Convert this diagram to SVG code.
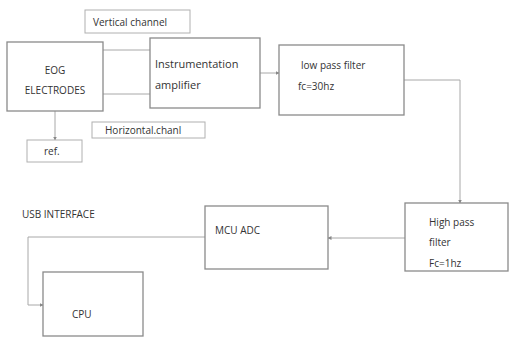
<svg xmlns="http://www.w3.org/2000/svg" width="509" height="337" viewBox="0 0 509 337">
<style>
.box{fill:#fff;stroke:#8a8a8a;stroke-width:1.3}
.lbl{fill:#fff;stroke:#b0b0b0;stroke-width:1}
.t{font-family:"Open Sans","Liberation Sans",sans-serif;font-size:10px;fill:#333}
.c{fill:none;stroke:#a8a8a8;stroke-width:1}
</style>
<defs>
<marker id="a" markerWidth="4" markerHeight="4" refX="3.5" refY="2" orient="auto" markerUnits="userSpaceOnUse"><path d="M0,0L4,2L0,4z" fill="#888"/></marker>
</defs>
<rect width="509" height="337" fill="#fff"/>
<g id="connectors">
<line class="c" x1="103" y1="50" x2="150" y2="50"/>
<line class="c" x1="103" y1="94" x2="150" y2="94"/>
<line class="c" x1="55" y1="111" x2="55" y2="140" marker-end="url(#a)"/>
<line class="c" x1="260" y1="73" x2="279" y2="73" marker-end="url(#a)"/>
<polyline class="c" points="404,80 460,80 460,203" marker-end="url(#a)"/>
<line class="c" x1="405" y1="238" x2="328" y2="238" marker-end="url(#a)"/>
<polyline class="c" points="205,237 28,237 28,305 43,305" marker-end="url(#a)"/>
</g>
<g id="vertical-channel"><rect class="lbl" x="85" y="10" width="105" height="23"/><text class="t" x="93" y="26">Vertical channel</text></g>
<g id="eog"><rect class="box" x="7" y="42" width="96" height="69"/><text class="t" x="55" y="74" text-anchor="middle">EOG</text><text class="t" x="55" y="94" text-anchor="middle">ELECTRODES</text></g>
<g id="amp"><rect class="box" x="150" y="38" width="110" height="70"/><text class="t" x="155" y="68" style="font-size:11px">Instrumentation</text><text class="t" x="155" y="89" style="font-size:11px">amplifier</text></g>
<g id="horizontal-channel"><rect class="lbl" x="92" y="122" width="113" height="16"/><text class="t" x="105" y="134">Horizontal.chanl</text></g>
<g id="ref"><rect class="lbl" x="27" y="140" width="55" height="22"/><text class="t" x="44" y="155">ref.</text></g>
<g id="lpf"><rect class="box" x="279" y="45" width="125" height="70"/><text class="t" x="301" y="69">low pass filter</text><text class="t" x="298" y="90">fc=30hz</text></g>
<g id="hpf"><rect class="box" x="405" y="203" width="103" height="68"/><text class="t" x="429" y="226">High pass</text><text class="t" x="429" y="246">filter</text><text class="t" x="429" y="267">Fc=1hz</text></g>
<g id="mcu"><rect class="box" x="205" y="206" width="123" height="63"/><text class="t" x="215" y="234">MCU ADC</text></g>
<g id="usb"><text class="t" x="22" y="218" style="font-size:10px">USB INTERFACE</text></g>
<g id="cpu"><rect class="box" x="43" y="272" width="100" height="64"/><text class="t" x="72" y="318">CPU</text></g>
</svg>
